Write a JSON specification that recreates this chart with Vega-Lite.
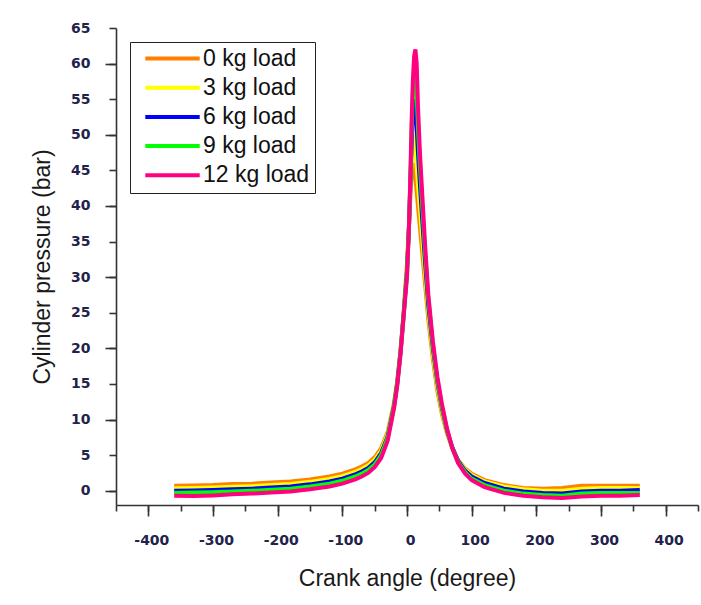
{
  "$schema": "https://vega.github.io/schema/vega-lite/v6.json",
  "width": 582,
  "height": 477,
  "autosize": "none",
  "padding": {"left": 116, "top": 28, "right": 3, "bottom": 100},
  "background": "white",
  "config": {"view": {"stroke": null}},
  "data": {
    "values": [
      {"a": -360, "0 kg load": 0.7, "3 kg load": 0.35, "6 kg load": 0.0, "9 kg load": -0.3, "12 kg load": -0.7},
      {"a": -330, "0 kg load": 0.75, "3 kg load": 0.4, "6 kg load": 0.05, "9 kg load": -0.25, "12 kg load": -0.75},
      {"a": -300, "0 kg load": 0.8, "3 kg load": 0.45, "6 kg load": 0.1, "9 kg load": -0.2, "12 kg load": -0.65},
      {"a": -270, "0 kg load": 0.95, "3 kg load": 0.55, "6 kg load": 0.2, "9 kg load": -0.1, "12 kg load": -0.5},
      {"a": -240, "0 kg load": 1.0, "3 kg load": 0.65, "6 kg load": 0.3, "9 kg load": 0.0, "12 kg load": -0.4},
      {"a": -210, "0 kg load": 1.15, "3 kg load": 0.8, "6 kg load": 0.45, "9 kg load": 0.15, "12 kg load": -0.25},
      {"a": -180, "0 kg load": 1.3, "3 kg load": 0.95, "6 kg load": 0.6, "9 kg load": 0.3, "12 kg load": -0.1},
      {"a": -150, "0 kg load": 1.6, "3 kg load": 1.25, "6 kg load": 0.9, "9 kg load": 0.6, "12 kg load": 0.2},
      {"a": -120, "0 kg load": 2.0, "3 kg load": 1.65, "6 kg load": 1.3, "9 kg load": 1.0, "12 kg load": 0.6},
      {"a": -100, "0 kg load": 2.4, "3 kg load": 2.05, "6 kg load": 1.7, "9 kg load": 1.4, "12 kg load": 1.0},
      {"a": -80, "0 kg load": 3.0, "3 kg load": 2.65, "6 kg load": 2.3, "9 kg load": 2.0, "12 kg load": 1.6},
      {"a": -70, "0 kg load": 3.4, "3 kg load": 3.05, "6 kg load": 2.7, "9 kg load": 2.4, "12 kg load": 2.0},
      {"a": -60, "0 kg load": 3.9, "3 kg load": 3.55, "6 kg load": 3.2, "9 kg load": 2.9, "12 kg load": 2.5},
      {"a": -50, "0 kg load": 4.7, "3 kg load": 4.35, "6 kg load": 4.0, "9 kg load": 3.7, "12 kg load": 3.3},
      {"a": -40, "0 kg load": 6.0, "3 kg load": 5.65, "6 kg load": 5.3, "9 kg load": 5.0, "12 kg load": 4.6},
      {"a": -30, "0 kg load": 8.2, "3 kg load": 7.9, "6 kg load": 7.6, "9 kg load": 7.4, "12 kg load": 7.0},
      {"a": -20, "0 kg load": 12.4, "3 kg load": 12.2, "6 kg load": 12.0, "9 kg load": 11.85, "12 kg load": 11.6},
      {"a": -15, "0 kg load": 15.5, "3 kg load": 15.35, "6 kg load": 15.2, "9 kg load": 15.05, "12 kg load": 14.8},
      {"a": -10, "0 kg load": 19.8, "3 kg load": 19.65, "6 kg load": 19.5, "9 kg load": 19.35, "12 kg load": 19.2},
      {"a": -5, "0 kg load": 25.3, "3 kg load": 25.15, "6 kg load": 25.0, "9 kg load": 24.85, "12 kg load": 24.7},
      {"a": 0, "0 kg load": 32, "3 kg load": 31.5, "6 kg load": 31, "9 kg load": 30.5, "12 kg load": 30},
      {"a": 3, "0 kg load": 37, "3 kg load": 37, "6 kg load": 37, "9 kg load": 37, "12 kg load": 37},
      {"a": 5, "0 kg load": 41, "3 kg load": 42, "6 kg load": 42.5, "9 kg load": 43, "12 kg load": 43.5},
      {"a": 7, "0 kg load": 44, "3 kg load": 46.5, "6 kg load": 48, "9 kg load": 50, "12 kg load": 51.5},
      {"a": 9, "0 kg load": 46, "3 kg load": 49.5, "6 kg load": 53, "9 kg load": 56, "12 kg load": 57.5},
      {"a": 11, "0 kg load": 45.5, "3 kg load": 50, "6 kg load": 55, "9 kg load": 59.5, "12 kg load": 61},
      {"a": 13, "0 kg load": 44, "3 kg load": 48, "6 kg load": 54, "9 kg load": 59, "12 kg load": 62},
      {"a": 15, "0 kg load": 42, "3 kg load": 45.5, "6 kg load": 51, "9 kg load": 56, "12 kg load": 60},
      {"a": 17, "0 kg load": 40, "3 kg load": 43, "6 kg load": 47.5, "9 kg load": 51, "12 kg load": 54},
      {"a": 20, "0 kg load": 37, "3 kg load": 39.5, "6 kg load": 43, "9 kg load": 45.5, "12 kg load": 47.5},
      {"a": 24, "0 kg load": 33, "3 kg load": 35, "6 kg load": 37.5, "9 kg load": 39.5, "12 kg load": 41},
      {"a": 28, "0 kg load": 29, "3 kg load": 30.5, "6 kg load": 32, "9 kg load": 33.5, "12 kg load": 34.5},
      {"a": 33, "0 kg load": 24, "3 kg load": 25, "6 kg load": 26, "9 kg load": 27, "12 kg load": 27.5},
      {"a": 40, "0 kg load": 18.5, "3 kg load": 19.2, "6 kg load": 20, "9 kg load": 20.5, "12 kg load": 21},
      {"a": 47, "0 kg load": 14, "3 kg load": 14.6, "6 kg load": 15.2, "9 kg load": 15.5, "12 kg load": 16},
      {"a": 54, "0 kg load": 10.8, "3 kg load": 11.2, "6 kg load": 11.6, "9 kg load": 11.8, "12 kg load": 12.2},
      {"a": 62, "0 kg load": 8, "3 kg load": 8.2, "6 kg load": 8.4, "9 kg load": 8.5, "12 kg load": 8.7},
      {"a": 70, "0 kg load": 6, "3 kg load": 6, "6 kg load": 6.1, "9 kg load": 6, "12 kg load": 6},
      {"a": 79, "0 kg load": 4.3, "3 kg load": 4.2, "6 kg load": 4.2, "9 kg load": 4.0, "12 kg load": 3.9},
      {"a": 90, "0 kg load": 3.1, "3 kg load": 3.0, "6 kg load": 2.8, "9 kg load": 2.6, "12 kg load": 2.4},
      {"a": 100, "0 kg load": 2.4, "3 kg load": 2.2, "6 kg load": 2.0, "9 kg load": 1.7, "12 kg load": 1.5},
      {"a": 120, "0 kg load": 1.5, "3 kg load": 1.3, "6 kg load": 1.1, "9 kg load": 0.8, "12 kg load": 0.5},
      {"a": 150, "0 kg load": 0.8, "3 kg load": 0.6, "6 kg load": 0.3, "9 kg load": 0.0, "12 kg load": -0.3},
      {"a": 180, "0 kg load": 0.4, "3 kg load": 0.2, "6 kg load": -0.1, "9 kg load": -0.4, "12 kg load": -0.7},
      {"a": 210, "0 kg load": 0.3, "3 kg load": 0.0, "6 kg load": -0.3, "9 kg load": -0.6, "12 kg load": -0.9},
      {"a": 240, "0 kg load": 0.4, "3 kg load": 0.0, "6 kg load": -0.4, "9 kg load": -0.7, "12 kg load": -1.0},
      {"a": 270, "0 kg load": 0.7, "3 kg load": 0.3, "6 kg load": -0.1, "9 kg load": -0.4, "12 kg load": -0.8},
      {"a": 300, "0 kg load": 0.7, "3 kg load": 0.4, "6 kg load": 0.0, "9 kg load": -0.3, "12 kg load": -0.7},
      {"a": 330, "0 kg load": 0.7, "3 kg load": 0.4, "6 kg load": 0.0, "9 kg load": -0.3, "12 kg load": -0.7},
      {"a": 360, "0 kg load": 0.7, "3 kg load": 0.4, "6 kg load": 0.1, "9 kg load": -0.3, "12 kg load": -0.6}
    ]
  },
  "transform": [
    {"fold": ["0 kg load", "3 kg load", "6 kg load", "9 kg load", "12 kg load"], "as": ["load", "p"]}
  ],
  "layer": [
    {
      "mark": {"type": "line", "strokeOpacity": 0},
      "encoding": {
        "detail": {"field": "load", "type": "nominal"},
        "x": {
          "field": "a",
          "type": "quantitative",
          "scale": {"domain": [-450, 450], "nice": false, "zero": false},
          "axis": {
            "orient": "bottom",
            "title": null,
            "values": [-400, -300, -200, -100, 0, 100, 200, 300, 400],
            "labels": false,
            "domain": false,
            "grid": false,
            "tickSize": 11,
            "tickColor": "#333333",
            "tickWidth": 1.6
          }
        },
        "y": {
          "field": "p",
          "type": "quantitative",
          "scale": {"domain": [-2, 65], "nice": false, "zero": false},
          "axis": {
            "orient": "left",
            "title": null,
            "values": [0, 10, 20, 30, 40, 50, 60],
            "labels": false,
            "domain": false,
            "grid": false,
            "tickSize": 11,
            "tickColor": "#333333",
            "tickWidth": 1.6
          }
        }
      }
    },
    {
      "mark": {"type": "line"},
      "encoding": {
        "x": {
          "field": "a",
          "type": "quantitative",
          "scale": {"domain": [-450, 450], "nice": false, "zero": false},
          "axis": {
            "orient": "bottom",
            "title": "Crank angle (degree)",
            "values": [-450, -400, -350, -300, -250, -200, -150, -100, -50, 0, 50, 100, 150, 200, 250, 300, 350, 400, 450],
            "labelExpr": "datum.value % 100 === 0 ? replace(datum.label, '\u2212', '-') : ''",
            "labelFont": "DejaVu Sans",
            "labelFontWeight": "bold",
            "labelFontSize": 14,
            "labelColor": "#22224a",
            "labelPadding": 22,
            "labelOffset": 3,
            "tickSize": 6,
            "tickColor": "#333333",
            "tickWidth": 1.6,
            "domainColor": "#333333",
            "domainWidth": 1.6,
            "grid": false,
            "titleFont": "Liberation Sans",
            "titleFontSize": 23,
            "titleFontWeight": "normal",
            "titleColor": "#1a1a1a",
            "titlePadding": 20
          }
        },
        "y": {
          "field": "p",
          "type": "quantitative",
          "scale": {"domain": [-2, 65], "nice": false, "zero": false},
          "axis": {
            "orient": "left",
            "title": "Cylinder pressure (bar)",
            "values": [0, 5, 10, 15, 20, 25, 30, 35, 40, 45, 50, 55, 60, 65],
            "labelFont": "DejaVu Sans",
            "labelFontWeight": "bold",
            "labelFontSize": 14,
            "labelColor": "#22224a",
            "labelPadding": 19,
            "tickSize": 7,
            "tickColor": "#333333",
            "tickWidth": 1.6,
            "domainColor": "#333333",
            "domainWidth": 1.6,
            "grid": false,
            "titleFont": "Liberation Sans",
            "titleFontSize": 23,
            "titleFontWeight": "normal",
            "titleColor": "#1a1a1a",
            "titlePadding": 16
          }
        },
        "color": {
          "field": "load",
          "type": "nominal",
          "scale": {
            "domain": ["0 kg load", "3 kg load", "6 kg load", "9 kg load", "12 kg load"],
            "range": ["#ff8000", "#ffff00", "#0000ff", "#00ff00", "#ff0080"]
          },
          "legend": {
            "title": null,
            "orient": "top-left",
            "offset": 14,
            "symbolType": "M-3.4,0H3.4",
            "symbolSize": 256,
            "symbolStrokeWidth": 4,
            "labelFont": "Liberation Sans",
            "labelFontSize": 23,
            "labelColor": "#111111",
            "labelOffset": 19,
            "symbolOffset": 26,
            "rowPadding": 5.2,
            "padding": 5,
            "strokeColor": "#222222",
            "fillColor": "white",
            "labelLimit": 300
          }
        },
        "strokeWidth": {
          "field": "load",
          "type": "nominal",
          "scale": {
            "domain": ["0 kg load", "3 kg load", "6 kg load", "9 kg load", "12 kg load"],
            "range": [4, 4, 4, 4, 6]
          },
          "legend": null
        }
      }
    }
  ],
  "resolve": {"axis": {"x": "independent", "y": "independent"}}
}
